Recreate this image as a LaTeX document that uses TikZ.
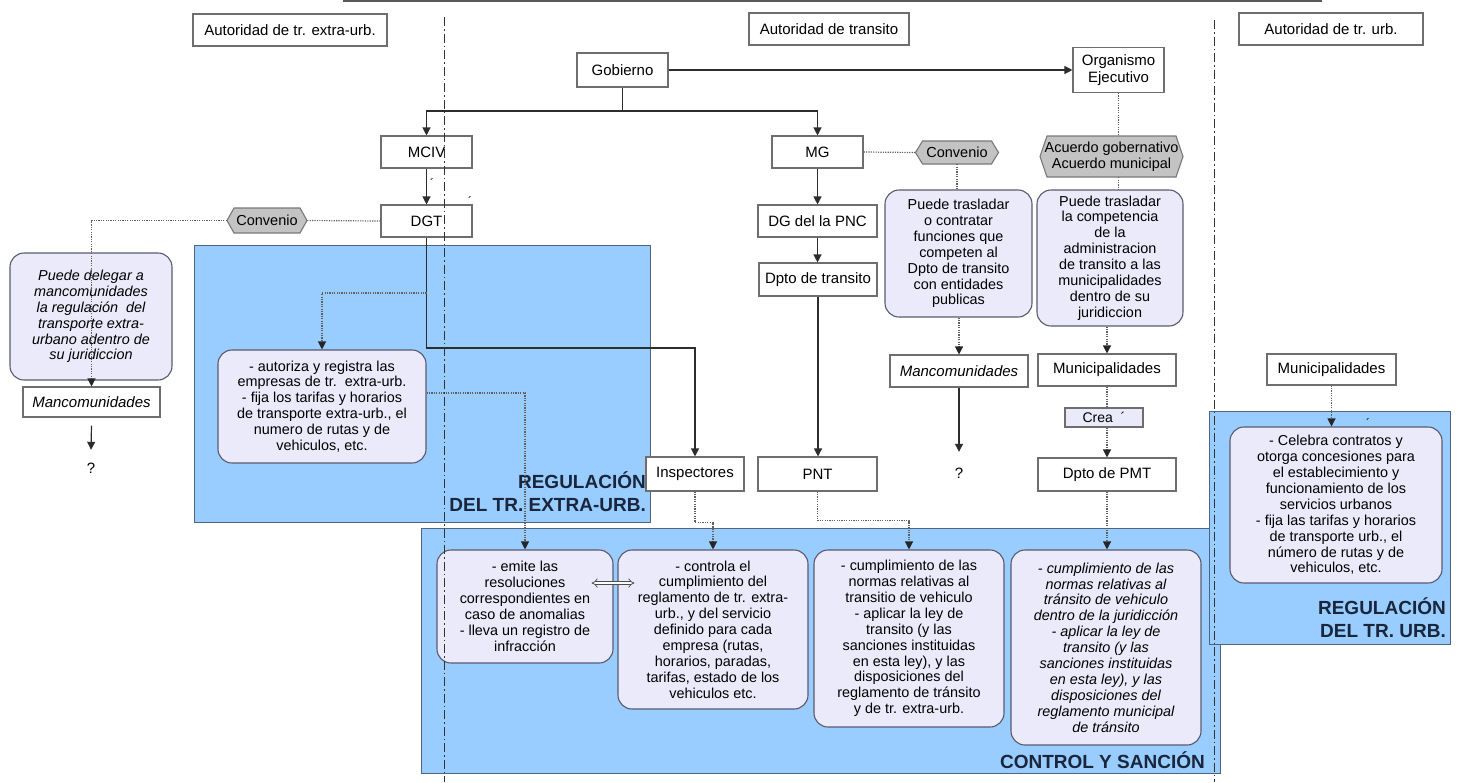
\documentclass[tikz,border=0pt]{standalone}
\usepackage{fontspec}
\setmainfont{Liberation Sans}
\usetikzlibrary{arrows.meta,calc}

\definecolor{zoneblue}{RGB}{153,204,255}
\definecolor{zoneedge}{RGB}{80,100,130}
\definecolor{bubble}{RGB}{234,234,250}
\definecolor{bubbleedge}{RGB}{90,90,110}
\definecolor{hexfill}{RGB}{195,195,195}
\definecolor{hexedge}{RGB}{120,120,120}
\definecolor{boxedge}{RGB}{110,110,110}
\definecolor{wire}{RGB}{45,45,45}
\definecolor{dotwire}{RGB}{95,95,95}
\definecolor{zonetext}{RGB}{25,38,60}

\tikzset{
  plainbox/.style={draw=boxedge, line width=1.1pt, fill=white, inner sep=0pt,
    font=\fontsize{15}{17}\selectfont, align=center},
  bubblebox/.style={draw=bubbleedge, line width=1.1pt, fill=bubble, rounded corners=14pt,
    inner sep=0pt, font=\fontsize{14.4}{15.9}\selectfont, align=center},
  hexlabel/.style={inner sep=0pt, font=\fontsize{14.5}{16}\selectfont, align=center},
  hexshape/.style={fill=hexfill, draw=hexedge, line width=1.1pt},
  zone/.style={fill=zoneblue, draw=zoneedge, line width=1pt},
  zonelabel/.style={font=\fontsize{19}{23}\selectfont\bfseries, text=zonetext,
    align=right, inner sep=0pt},
  qmark/.style={font=\fontsize{15}{17}\selectfont, inner sep=0pt},
  accent/.style={font=\fontsize{12}{12}\selectfont, inner sep=0pt},
  wireline/.style={draw=wire, line width=1.2pt},
  arrowline/.style={wireline, -{Triangle[length=8pt,width=8pt]}},
  dotline/.style={draw=dotwire, line width=1.2pt, dash pattern=on 1.2pt off 1.2pt},
  dotarrow/.style={dotline, -{Triangle[length=8pt,width=8pt,color=black!85]}},
  lane/.style={draw=black!80, line width=1pt, dash pattern=on 9pt off 3pt on 1.5pt off 3pt},
}

% hexagonal agreement label: name, centre x, centre y, width, height, text
\newcommand\hexagonnode[6]{%
  \path[hexshape] ({#2-#4/2},#3) -- ({#2-#4/2+7},{#3-#5/2}) -- ({#2+#4/2-7},{#3-#5/2})
    -- ({#2+#4/2},#3) -- ({#2+#4/2-7},{#3+#5/2}) -- ({#2-#4/2+7},{#3+#5/2}) -- cycle;
  \node[hexlabel, minimum width=#4pt, minimum height=#5pt] (#1) at (#2,#3) {#6};}

\begin{document}
\begin{tikzpicture}[x=1pt,y=-1pt]
\useasboundingbox (0,0) rectangle (1461,782);

% edge of the frame above
\draw[draw=black!65, line width=1.8pt] (343,0.9) -- (1322,0.9);

% shaded zones
\path[zone] (194,245) rectangle (650,522);
\path[zone] (421,528) rectangle (1220,773);
\path[zone] (1209,411) rectangle (1450,644);

\node[zonelabel, anchor=east] (lblE) at (646,492) {REGULACIÓN\\DEL TR. EXTRA-URB.};
\node[zonelabel, anchor=east] (lblC) at (1205,760) {CONTROL Y SANCIÓN};
\node[zonelabel, anchor=east] (lblU) at (1446,618) {REGULACIÓN\\DEL TR. URB.};

% column headers
\node[plainbox, minimum width=194pt, minimum height=32pt] (hdrE) at (290,30) {Autoridad de tr. extra-urb.};
\node[plainbox, minimum width=160pt, minimum height=32pt] (hdrT) at (829,29) {Autoridad de transito};
\node[plainbox, minimum width=184pt, minimum height=32pt] (hdrU) at (1331,29) {Autoridad de tr. urb.};

% institutions
\node[plainbox, minimum width=91pt, minimum height=34pt] (gob) at (622.5,70) {Gobierno};
\node[plainbox, minimum width=91pt, minimum height=45pt] (org) at (1118.5,70) {Organismo\\Ejecutivo};
\node[plainbox, minimum width=91pt, minimum height=32pt] (mciv) at (426.5,152) {MCIV};
\node[plainbox, minimum width=91pt, minimum height=32pt] (dgt) at (426.5,221) {DGT};
\node[plainbox, minimum width=91pt, minimum height=32pt] (mg) at (817.5,152) {MG};
\node[plainbox, minimum width=119pt, minimum height=32pt] (dgpnc) at (817.5,221) {DG del la PNC};
\node[plainbox, minimum width=118pt, minimum height=33pt] (dptot) at (818,279.5) {Dpto de transito};
\node[plainbox, minimum width=98pt, minimum height=34pt] (insp) at (695,474) {Inspectores};
\node[plainbox, minimum width=119pt, minimum height=34pt] (pnt) at (817.5,474) {PNT};
\node[plainbox, minimum width=138pt, minimum height=32pt, font=\fontsize{15}{17}\selectfont\itshape] (mancoC) at (959,371) {Mancomunidades};
\node[plainbox, minimum width=138pt, minimum height=32pt] (muniC) at (1107,370) {Municipalidades};
\node[plainbox, fill=bubble, minimum width=78pt, minimum height=19pt, font=\fontsize{14}{15}\selectfont] (crea) at (1104,417.5) {Crea\ \ ´};
\node[plainbox, minimum width=138pt, minimum height=33pt] (pmt) at (1107,474.5) {Dpto de PMT};
\node[plainbox, minimum width=129pt, minimum height=31pt] (muniR) at (1331.5,369.5) {Municipalidades};
\node[plainbox, minimum width=137pt, minimum height=30pt, font=\fontsize{15}{17}\selectfont\itshape] (mancoL) at (91.5,402) {Mancomunidades};

\node[qmark, minimum height=36pt] (qL) at (91,468) {?};
\node[qmark, minimum height=42pt] (qC) at (959,473) {?};

% agreements
\hexagonnode{convL}{267}{220.5}{80}{25}{Convenio}
\hexagonnode{convC}{957}{152.5}{83}{23}{Convenio}
\hexagonnode{acuerdo}{1111.5}{156.5}{143}{41}{Acuerdo gobernativo\\Acuerdo municipal}

% competences
\node[bubblebox, minimum width=162pt, minimum height=127pt, font=\fontsize{14.4}{15.9}\selectfont\itshape] (delegar) at (91,316.5)
  {Puede delegar a\\mancomunidades\\la regulación\ \ del\\transporte extra-\\urbano adentro de\\su juridiccion};
\node[bubblebox, minimum width=208pt, minimum height=113pt] (autoriza) at (322,406.5)
  {- autoriza y registra las\\empresas de tr.\ \ extra-urb.\\- fija los tarifas y horarios\\de transporte extra-urb., el\\numero de rutas y de\\vehiculos, etc.};
\node[bubblebox, minimum width=147pt, minimum height=127pt] (contratar) at (958.5,253.5)
  {Puede trasladar\\o contratar\\funciones que\\competen al\\Dpto de transito\\con entidades\\publicas};
\node[bubblebox, minimum width=146pt, minimum height=136pt] (competencia) at (1110,258)
  {Puede trasladar\\la competencia\\de la\\administracion\\de transito a las\\municipalidades\\dentro de su\\juridiccion};
\node[bubblebox, minimum width=212pt, minimum height=156pt] (celebra) at (1336,505)
  {- Celebra contratos y\\otorga concesiones para\\el establecimiento y\\funcionamiento de los\\servicios urbanos\\- fija las tarifas y horarios\\de transporte urb., el\\número de rutas y de\\vehiculos, etc.};
\node[bubblebox, minimum width=176pt, minimum height=113pt] (emite) at (525,606.5)
  {- emite las\\resoluciones\\correspondientes en\\caso de anomalias\\- lleva un registro de\\infracción};
\node[bubblebox, minimum width=190pt, minimum height=159pt] (controla) at (713,629.5)
  {- controla el\\cumplimiento del\\reglamento de tr. extra-\\urb., y del servicio\\definido para cada\\empresa (rutas,\\horarios, paradas,\\tarifas, estado de los\\vehiculos etc.};
\node[bubblebox, minimum width=190pt, minimum height=177pt] (cumpl) at (909,638.5)
  {- cumplimiento de las\\normas relativas al\\transitio de vehiculo\\- aplicar la ley de\\transito (y las\\sanciones instituidas\\en esta ley), y las\\disposiciones del\\reglamento de tránsito\\y de tr. extra-urb.};
\node[bubblebox, minimum width=190pt, minimum height=195pt, font=\fontsize{14.4}{15.9}\selectfont\itshape] (cumplI) at (1106,647.5)
  {- cumplimiento de las\\normas relativas al\\tránsito de vehiculo\\dentro de la juridicción\\- aplicar la ley de\\transito (y las\\sanciones instituidas\\en esta ley), y las\\disposiciones del\\reglamento municipal\\de tránsito};

% stray accent marks
\node[accent] (acc1) at (432,183) {´};
\node[accent] (acc2) at (470,201) {´};
\node[accent] (acc3) at (1368,423) {´};

% hierarchy
\coordinate (gj) at (622.5,111);
\draw[arrowline] (gob.south) -- (gj) -| (mciv.north);
\draw[arrowline] (gj) -| (mg.north);
\draw[arrowline] (gob.east) -- (org.west);
\draw[arrowline] (mciv.south) -- (dgt.north);
\draw[arrowline] (mg.south) -- (dgpnc.north);
\draw[arrowline] (dgpnc.south) -- (dgpnc.south |- dptot.north);
\draw[arrowline] (dptot.south) -- (dptot.south |- pnt.north);
\coordinate (dk) at (426.5,348);
\draw[arrowline] (dgt.south) -- (dk) -| (insp.north);
\coordinate (dj) at (426.5,293);
\draw[dotarrow] (dj) -| (autoriza.north);

% extra-urban agreement
\draw[dotline] (dgt.west) -- (convL.east);
\draw[dotarrow] (convL.west) -| (mancoL.north);
\draw[arrowline] ([yshift=-8pt]mancoL.south) -- (qL.north);

% control links
\draw[dotarrow] ([yshift=13.5pt]autoriza.east) -| (emite.north);
\draw[dotarrow] (insp.south) -- ++(0,31) -| (controla.north);
\draw[dotarrow] (pnt.south) -- ++(0,29) -| (cumpl.north);
\draw[dotarrow] (pmt.south) -- (pmt.south |- cumplI.north);
\path (emite.east) ++(-22,-23.5) coordinate (dl);
\path (controla.west) ++(17,-46.5) coordinate (dr);
\draw[draw=black!70, line width=0.7pt, double=white, double distance=2.5pt, {Implies}-{Implies}] (dl) -- (dr);

% transit authority agreements
\draw[dotline] (mg.east) -- (convC.west);
\draw[dotline] (convC.south) -- (convC.south |- contratar.north);
\draw[dotarrow] (mancoC.north |- contratar.south) -- (mancoC.north);
\draw[arrowline] (mancoC.south) -- (qC.north);
\draw[dotline] (org.south) -- (org.south |- acuerdo.north);
\draw[dotline] (org.south |- acuerdo.south) -- (org.south |- competencia.north);
\draw[dotarrow] (muniC.north |- competencia.south) -- (muniC.north);
\draw[dotline] (muniC.south) -- (muniC.south |- crea.north);
\draw[dotarrow] (muniC.south |- crea.south) -- (muniC.south |- pmt.north);
\draw[dotarrow] (muniR.south) -- (muniR.south |- celebra.north);

% lane separators
\draw[lane] (444.5,17) -- (444.5,782);
\draw[lane] (1214,20) -- (1214,782);
\end{tikzpicture}
\end{document}
